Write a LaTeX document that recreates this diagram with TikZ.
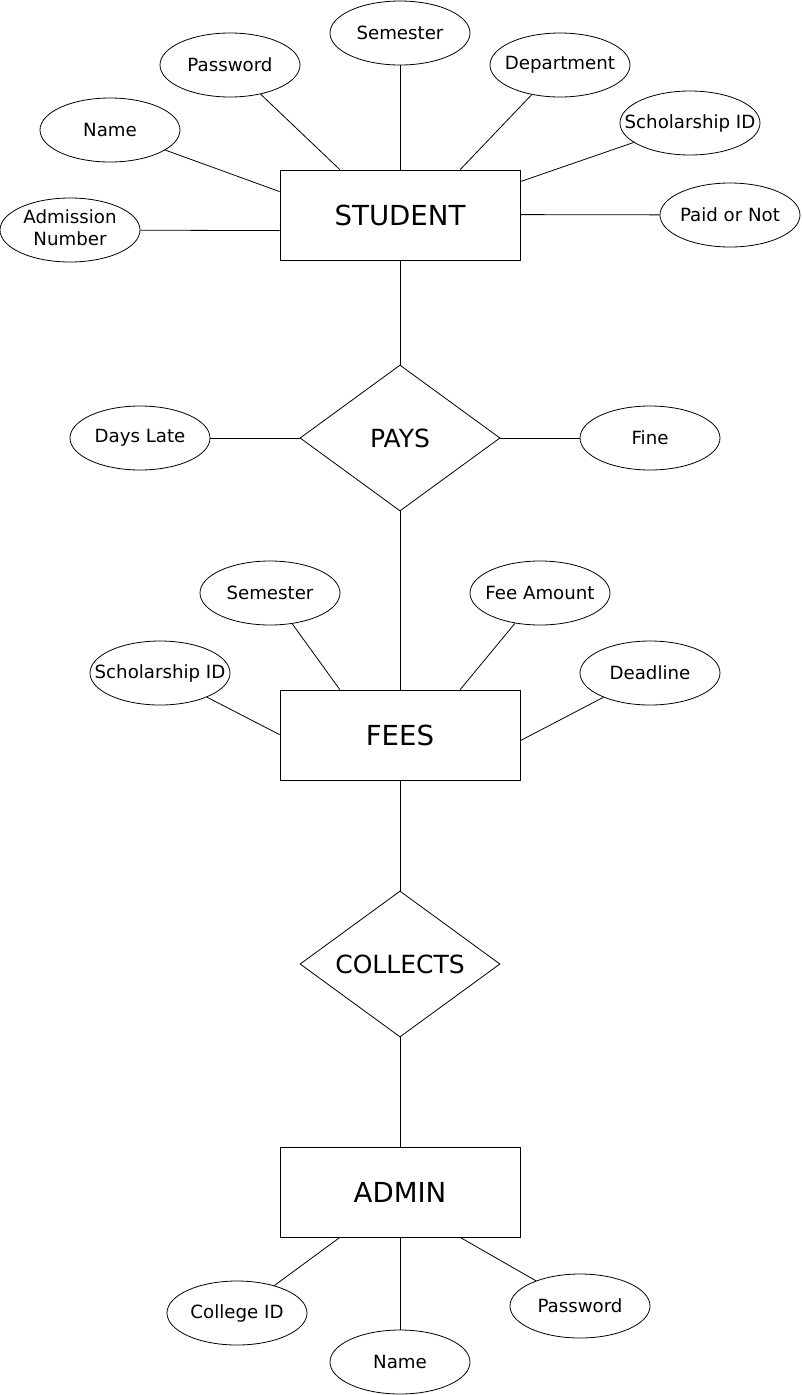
\documentclass[tikz,border=0pt]{standalone}
\usepackage{fontspec}
\setmainfont{DejaVu Sans}
\usetikzlibrary{shapes.geometric,calc}
\newcommand\zw[1]{\makebox[0pt]{#1}}
\begin{document}
\begin{tikzpicture}[x=1pt,y=-1pt,
  attr/.style={draw,ellipse,minimum width=140pt,minimum height=64pt,inner sep=0pt,font=\fontsize{18.2}{21.5}\selectfont},
  ent/.style={draw,rectangle,minimum width=240pt,minimum height=90pt,inner sep=0pt,font=\fontsize{27.6}{32}\selectfont},
  rel/.style={draw,diamond,minimum width=200pt,minimum height=146pt,inner sep=0pt,aspect=1.37,font=\fontsize{25}{30}\selectfont},
  every path/.style={line width=0.8pt}]
\useasboundingbox (0,0) rectangle (801,1395);
% STUDENT
\node[ent] (student) at (400,215) {STUDENT};
\node[attr] (sem1) at (400,33) {\zw{Semester}};
\node[attr] (pw1) at (230,65) {\zw{Password}};
\node[attr] (dep) at (560,65) {\zw{Department}};
\node[attr] (name1) at (110,130) {\zw{Name}};
\node[attr] (sch1) at (690,123) {\zw{Scholarship ID}};
\node[attr] (adm) at (70,230) {\zw{\begin{tabular}{@{}c@{}}Admission\\[0.5pt]Number\end{tabular}}};
\node[attr] (paid) at (730,215) {\zw{Paid or Not}};
\coordinate (sL) at ($(student.north)!0.5!(student.north west)$);
\coordinate (sR) at ($(student.north)!0.5!(student.north east)$);
\draw (sem1) -- (student.north);
\draw (pw1) -- (sL);
\draw (dep) -- (sR);
\draw (name1) -- ($(student.north west)+(0,22)$);
\draw (sch1) -- ($(student.north east)+(0,12)$);
\draw (adm) -- ($(student.north west)+(0,61)$);
\draw (paid) -- ($(student.north east)+(0,45)$);
% PAYS
\node[rel] (pays) at (400,438) {PAYS};
\node[attr] (late) at (140,438) {\zw{Days Late}};
\node[attr] (fine) at (650,438) {\zw{Fine}};
\draw (student) -- (pays);
\draw (late) -- (pays);
\draw (pays) -- (fine);
% FEES
\node[ent] (fees) at (400,735) {FEES};
\node[attr] (sem2) at (270,593) {\zw{Semester}};
\node[attr] (amt) at (540,593) {\zw{Fee Amount}};
\node[attr] (sch2) at (160,673) {\zw{Scholarship ID}};
\node[attr] (dead) at (650,673) {\zw{Deadline}};
\draw (pays) -- (fees);
\draw (sem2) -- ($(fees.north)!0.5!(fees.north west)$);
\draw (amt) -- ($(fees.north)!0.5!(fees.north east)$);
\draw (sch2) -- ($(fees.north west)+(0,45)$);
\draw (dead) -- ($(fees.north east)+(0,51)$);
% COLLECTS
\node[rel] (coll) at (400,964) {COLLECTS};
\draw (fees) -- (coll);
% ADMIN
\node[ent] (admin) at (400,1192) {ADMIN};
\draw (coll) -- (admin);
\node[attr] (cid) at (237,1313) {\zw{College ID}};
\node[attr] (name2) at (400,1362) {\zw{Name}};
\node[attr] (pw2) at (580,1306) {\zw{Password}};
\draw (cid) -- ($(admin.south)!0.5!(admin.south west)$);
\draw (name2) -- (admin.south);
\draw (pw2) -- ($(admin.south)!0.5!(admin.south east)$);
\end{tikzpicture}
\end{document}
